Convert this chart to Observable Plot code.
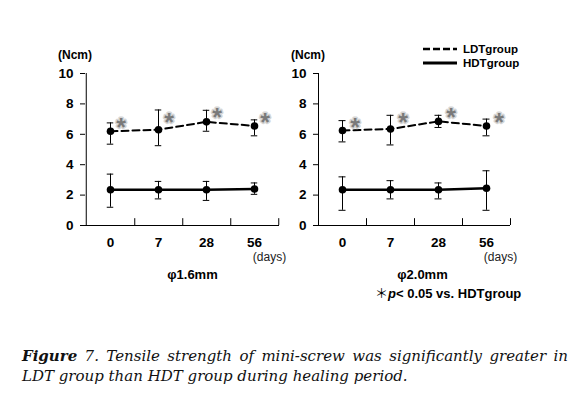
<!DOCTYPE html>
<html>
<head>
<meta charset="utf-8">
<script src="https://cdn.jsdelivr.net/npm/d3@7"></script>
<script src="https://cdn.jsdelivr.net/npm/@observablehq/plot@0.6"></script>
<style>
  html, body { margin: 0; padding: 0; background: #fff; }
  #wrap { position: relative; width: 583px; height: 410px; overflow: hidden; }
  #wrap svg { position: absolute; top: 0; }
  .lbl { position: absolute; font-family: "Liberation Sans", Arial, sans-serif; color: #000; white-space: nowrap; }
  .cap { position: absolute; left: 22px; width: 546px; font-family: "DejaVu Serif", "Liberation Serif", serif; font-style: italic; font-size: 15px; line-height: 20px; color: #111; white-space: nowrap; }
</style>
</head>
<body>
<div id="wrap"></div>
<script>
// ---- data ----
const days = ["0", "7", "28", "56"];
const yTicks = [0, 2, 4, 6, 8, 10];
const seriesNames = ["LDTgroup", "HDTgroup"];

// phi 1.6 mm
const ldt16   = [6.2, 6.3, 6.82, 6.55];
const ldt16Lo = [5.35, 5.25, 6.2, 5.9];
const ldt16Hi = [6.75, 7.6, 7.58, 6.95];
const hdt16   = [2.35, 2.35, 2.35, 2.4];
const hdt16Lo = [1.2, 1.75, 1.65, 2.05];
const hdt16Hi = [3.38, 2.9, 2.9, 2.8];

// phi 2.0 mm
const ldt20   = [6.25, 6.35, 6.85, 6.55];
const ldt20Lo = [5.5, 5.3, 6.45, 5.9];
const ldt20Hi = [6.9, 7.25, 7.25, 7.0];
const hdt20   = [2.35, 2.35, 2.35, 2.45];
const hdt20Lo = [1.0, 1.75, 1.75, 1.0];
const hdt20Hi = [3.2, 2.95, 2.8, 3.6];

// significance markers (height of asterisk, Ncm)
const starY = [6.8, 7.15, 7.45, 7.15];

const panelLabels = ["\u03c61.6mm", "\u03c62.0mm"];

// ---- drawing ----
const wrap = document.getElementById("wrap");

function rowsOf(v, lo, hi, group) {
  return days.map((d, i) => ({day: d, v: v[i], lo: lo[i], hi: hi[i], group}));
}

function panel({ldt, ldtLo, ldtHi, hdt, hdtLo, hdtHi, marginRight, starDx, label, labelDx}) {
  const W = 290, mL = 85;
  const bw = (W - mL - marginRight) / days.length;
  const capW = 7;
  const inset = (bw - capW) / 2;
  const L = rowsOf(ldt, ldtLo, ldtHi, "LDT");
  const H = rowsOf(hdt, hdtLo, hdtHi, "HDT");
  const all = L.concat(H);
  const stars = days.map((d, i) => ({day: d, s: starY[i]}));
  return Plot.plot({
    width: W, height: 310,
    marginLeft: mL, marginRight, marginTop: 73, marginBottom: 85,
    style: {fontFamily: '"Liberation Sans", Arial, sans-serif', fontSize: "13px", fontWeight: "bold", color: "#000", background: "transparent", overflow: "visible"},
    x: {type: "band", domain: days, padding: 0, label: null},
    y: {domain: [0, 10], label: null},
    marks: [
      Plot.axisY({ticks: yTicks, tickSize: 5, tickPadding: 7, label: null, fontSize: 13.5}),
      Plot.axisX({tickSize: 0, tickPadding: 12, label: null, fontSize: 13.5}),
      Plot.ruleY([0], {stroke: "#000"}),
      Plot.ruleX([days[0]], {dx: -bw / 2, stroke: "#000"}),
      Plot.ruleX(days, {x: d => d, y1: 0, y2: 0.45, dx: bw / 2, stroke: "#000"}),
      Plot.ruleX(all, {x: "day", y1: "lo", y2: "hi", stroke: "#000", strokeWidth: 1}),
      Plot.tickY(all, {x: "day", y: "lo", insetLeft: inset, insetRight: inset, stroke: "#000", strokeWidth: 1}),
      Plot.tickY(all, {x: "day", y: "hi", insetLeft: inset, insetRight: inset, stroke: "#000", strokeWidth: 1}),
      Plot.line(L, {x: "day", y: "v", stroke: "#000", strokeWidth: 2, strokeDasharray: "7,4"}),
      Plot.line(H, {x: "day", y: "v", stroke: "#000", strokeWidth: 2.6}),
      Plot.dot(all, {x: "day", y: "v", r: 3.8, fill: "#000", stroke: "none"}),
      Plot.text(stars, {x: "day", y: "s", text: () => "*", dx: starDx, dy: 6, fontSize: 25, fontWeight: "bold",
        fill: "#7a7a7a", stroke: "#d6d6d6", strokeWidth: 3, paintOrder: "stroke"}),
      Plot.text(["(Ncm)"], {text: d => d, frameAnchor: "top-left", textAnchor: "middle", lineAnchor: "middle", dx: -10.5, dy: -18, fontSize: 12}),
      Plot.text(["(days)"], {text: d => d, frameAnchor: "bottom-right", textAnchor: "middle", lineAnchor: "middle", dx: -10, dy: 32, fontSize: 12, fontWeight: "normal", fill: "#222"}),
      Plot.text([label], {text: d => d, frameAnchor: "bottom", textAnchor: "middle", lineAnchor: "middle", dx: labelDx, dy: 49.5, fontSize: 13})
    ]
  });
}

const left = panel({ldt: ldt16, ldtLo: ldt16Lo, ldtHi: ldt16Hi, hdt: hdt16, hdtLo: hdt16Lo, hdtHi: hdt16Hi,
  marginRight: 11, starDx: 10.5, label: panelLabels[0], labelDx: 10});
left.style.left = "0px";
wrap.appendChild(left);

const right = panel({ldt: ldt20, ldtLo: ldt20Lo, ldtHi: ldt20Hi, hdt: hdt20, hdtLo: hdt20Lo, hdtHi: hdt20Hi,
  marginRight: 13, starDx: 12.5, label: panelLabels[1], labelDx: 8});
right.style.left = "233px";
wrap.appendChild(right);

// legend
const ns = "http://www.w3.org/2000/svg";
const leg = document.createElementNS(ns, "svg");
leg.setAttribute("width", 120); leg.setAttribute("height", 30);
leg.style.position = "absolute"; leg.style.left = "420px"; leg.style.top = "41px";
const legStyles = [{dash: "7,3", w: 2.6}, {dash: null, w: 3}];
seriesNames.forEach((name, i) => {
  const y = 8 + i * 14;
  const ln = document.createElementNS(ns, "line");
  ln.setAttribute("x1", 3); ln.setAttribute("x2", 37); ln.setAttribute("y1", y); ln.setAttribute("y2", y);
  ln.setAttribute("stroke", "#000"); ln.setAttribute("stroke-width", legStyles[i].w);
  if (legStyles[i].dash) ln.setAttribute("stroke-dasharray", legStyles[i].dash);
  leg.appendChild(ln);
  const t = document.createElementNS(ns, "text");
  t.setAttribute("x", 43); t.setAttribute("y", y); t.setAttribute("dy", "0.35em");
  t.setAttribute("font-family", '"Liberation Sans", Arial, sans-serif');
  t.setAttribute("font-size", 11.5); t.setAttribute("font-weight", "bold");
  t.textContent = name;
  leg.appendChild(t);
});
wrap.appendChild(leg);

// footnote
const fn = document.createElement("div");
fn.className = "lbl";
fn.style.left = "375px"; fn.style.top = "285px"; fn.style.fontSize = "13px"; fn.style.fontWeight = "bold"; fn.style.lineHeight = "16px";
fn.innerHTML = '<span style="font-family:\'Noto Sans CJK JP\',sans-serif;font-weight:normal">\uff0a</span><i>p</i>&lt; 0.05 vs. HDTgroup';
wrap.appendChild(fn);

// caption
const c1 = document.createElement("div");
c1.className = "cap";
c1.style.top = "346px";
c1.style.textAlign = "justify"; c1.style.textAlignLast = "justify";
c1.innerHTML = '<b>Figure</b> 7. Tensile strength of mini-screw was significantly greater in';
wrap.appendChild(c1);
const c2 = document.createElement("div");
c2.className = "cap";
c2.style.top = "366px";
c2.textContent = "LDT group than HDT group during healing period.";
wrap.appendChild(c2);
</script>
</body>
</html>
